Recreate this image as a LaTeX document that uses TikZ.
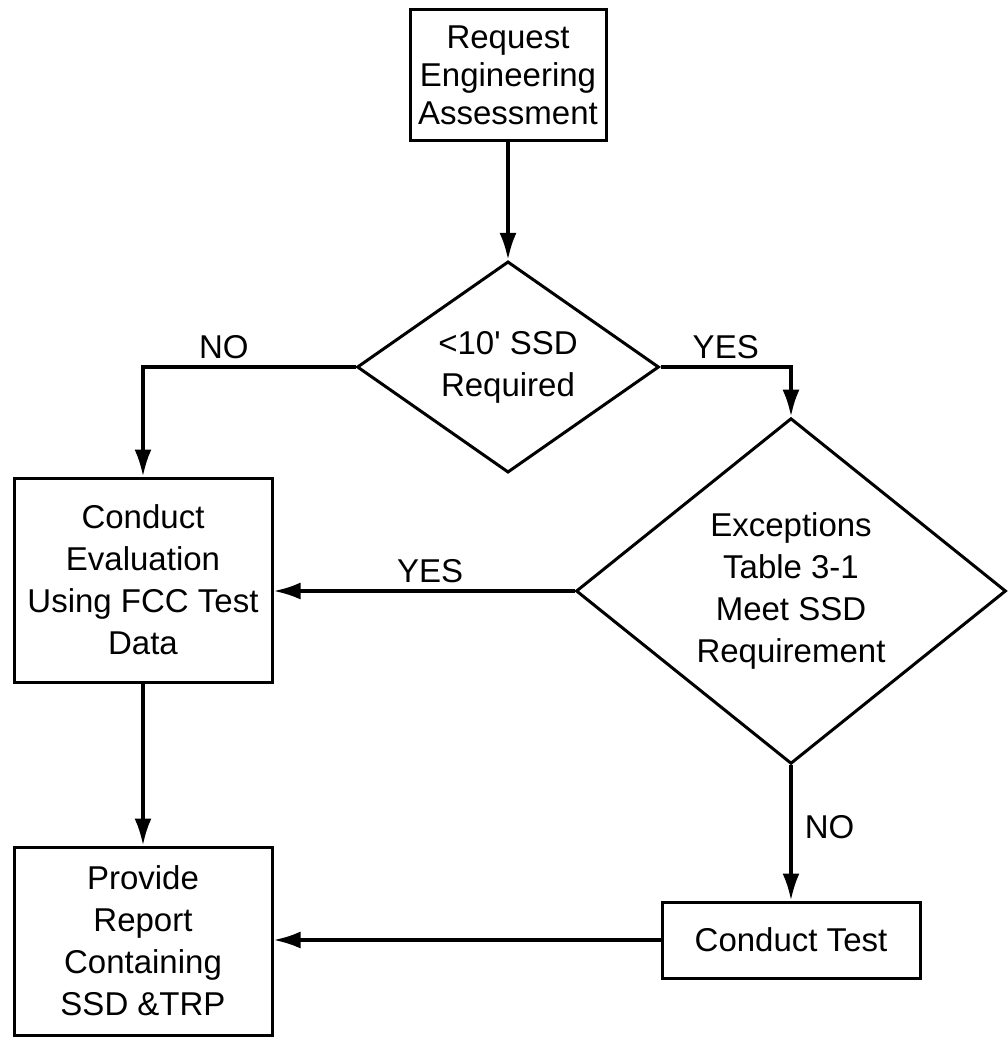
\documentclass[tikz,border=0pt]{standalone}
\usepackage{fontspec}
\setmainfont{Liberation Sans}
\usetikzlibrary{shapes.geometric}
\usetikzlibrary{arrows.meta}

\begin{document}
\begin{tikzpicture}[x=1pt, y=-1pt, line width=3.5pt,
    nodes={font=\fontsize{33}{42}\selectfont, align=center, inner sep=0pt},
    box/.style={draw, rectangle, line width=3pt},
    decision/.style={draw, diamond, line width=3pt},
    flow/.style={-{Latex[length=27pt, width=17pt]}}]
  \useasboundingbox (0,0) rectangle (1008,1042);

  \node[box, minimum width=196pt, minimum height=131pt, font=\fontsize{33}{38}\selectfont] (request) at (508,75) {Request\\Engineering\\Assessment};
  \node[decision, minimum width=302pt, minimum height=194pt] (sizecheck) at (508,367) {<10\textquotesingle{} SSD\\Required};
  \node[box, minimum width=258pt, minimum height=204pt] (evaluation) at (143,580) {Conduct\\Evaluation\\Using FCC Test\\Data};
  \node[decision, minimum width=430pt, minimum height=308pt] (exceptions) at (791,591) {Exceptions\\Table 3-1\\Meet SSD\\Requirement};
  \node[box, minimum width=258pt, minimum height=188pt] (report) at (143,941) {Provide\\Report\\Containing\\SSD \&TRP};
  \node[box, minimum width=258pt, minimum height=76pt] (conducttest) at (791,940) {Conduct Test};

  \draw[flow] (request) -- (sizecheck);
  \draw[flow] (sizecheck.west) -| node[pos=0.31, above=6pt] {NO} (evaluation.north);
  \draw[flow] (sizecheck.east) -| node[pos=0.25, above=6pt] {YES} (exceptions.north);
  \draw[flow] (exceptions.west) -- node[pos=0.48, above=6pt] {YES} (exceptions.west -| evaluation.east);
  \draw[flow] (evaluation) -- (report);
  \draw[flow] (exceptions) -- node[pos=0.46, right=12pt] {NO} (conducttest);
  \draw[flow] (conducttest.west) -- (conducttest.west -| report.east);
\end{tikzpicture}
\end{document}
